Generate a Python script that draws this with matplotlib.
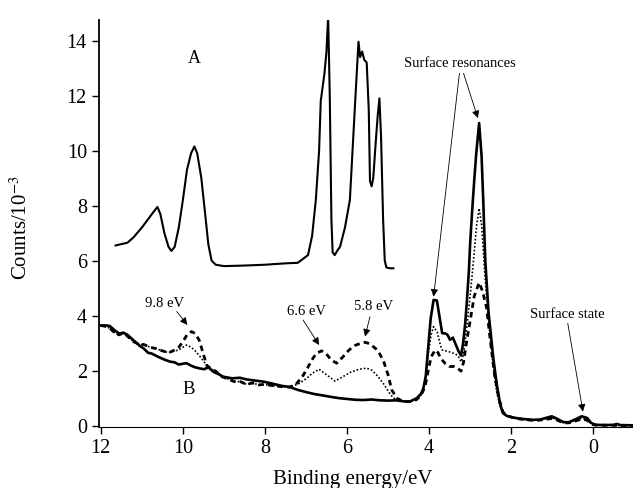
import matplotlib.pyplot as plt

plt.rcParams['font.family'] = 'Liberation Serif'
plt.rcParams['mathtext.fontset'] = 'stix'

# spectrum A (upper trace)
a_ev = [11.64, 11.5, 11.35, 11.2, 11.0, 10.85, 10.7, 10.62, 10.55, 10.45, 10.35, 10.28,
        10.2, 10.1, 10.0, 9.9, 9.8, 9.72, 9.65, 9.55, 9.45, 9.38, 9.3, 9.2, 9.0, 8.5,
        8.0, 7.5, 7.2, 6.95, 6.85, 6.76, 6.68, 6.64, 6.55, 6.5, 6.46, 6.42, 6.38, 6.35,
        6.3, 6.22, 6.17, 6.05, 5.93, 5.8, 5.72, 5.68, 5.63, 5.58, 5.52, 5.47, 5.44,
        5.4, 5.36, 5.3, 5.25, 5.21, 5.17, 5.12, 5.08, 5.04, 4.95, 4.87]
a_cts = [6.55, 6.6, 6.65, 6.85, 7.2, 7.5, 7.8, 7.95, 7.7, 7.0, 6.5, 6.35,
         6.5, 7.2, 8.2, 9.3, 9.9, 10.15, 9.9, 9.0, 7.6, 6.6, 6.0, 5.85, 5.8, 5.82,
         5.85, 5.9, 5.92, 6.2, 6.9, 8.2, 10.0, 11.8, 12.8, 13.6, 14.9, 12.0, 7.5, 6.3,
         6.2, 6.4, 6.5, 7.2, 8.2, 11.8, 13.96, 13.4, 13.6, 13.3, 13.2, 11.5, 8.9,
         8.7, 9.0, 10.3, 11.3, 11.9, 10.5, 7.5, 6.0, 5.75, 5.72, 5.72]

# spectrum B, solid
b1_ev = [12.0, 11.85, 11.78, 11.65, 11.55, 11.45, 11.35, 11.2, 11.05, 10.95, 10.85,
         10.76, 10.6, 10.45, 10.32, 10.2, 10.1, 10.0, 9.91, 9.8, 9.7, 9.59, 9.48, 9.38,
         9.25, 9.1, 9.02, 8.8, 8.61, 8.45, 8.2, 8.04, 7.8, 7.6, 7.39, 7.2, 7.0, 6.8,
         6.6, 6.41, 6.2, 6.0, 5.8, 5.6, 5.4, 5.2, 5.0, 4.8, 4.6, 4.46, 4.3, 4.2, 4.14,
         4.08, 4.02, 3.96, 3.89, 3.81, 3.75, 3.68, 3.6, 3.55, 3.49, 3.42, 3.35, 3.28,
         3.22, 3.17, 3.12, 3.08, 3.03, 3.0, 2.95, 2.9, 2.85, 2.78, 2.72, 2.68, 2.63,
         2.55, 2.43, 2.35, 2.27, 2.2, 2.1, 1.9, 1.7, 1.46, 1.3, 1.15, 1.01, 0.88, 0.73,
         0.6, 0.45, 0.28, 0.15, 0.05, -0.05, -0.3, -0.5, -0.58, -0.66, -0.97]
b1_cts = [3.64, 3.64, 3.62, 3.45, 3.35, 3.38, 3.3, 3.1, 2.9, 2.8, 2.65,
          2.62, 2.5, 2.4, 2.33, 2.3, 2.22, 2.25, 2.27, 2.18, 2.12, 2.08, 2.05, 2.12,
          1.95, 1.85, 1.78, 1.72, 1.74, 1.68, 1.63, 1.6, 1.52, 1.45, 1.4, 1.3, 1.22, 1.15,
          1.1, 1.05, 1.0, 0.97, 0.94, 0.93, 0.95, 0.92, 0.91, 0.92, 0.88, 0.88, 1.0, 1.15, 1.35,
          1.8, 2.87, 3.9, 4.57, 4.55, 4.0, 3.36, 3.35, 3.3, 3.12, 3.2, 2.95, 2.7,
          2.55, 3.0, 3.7, 4.5, 5.6, 6.6, 7.8, 8.9, 9.9, 11.0, 9.8, 8.2, 6.0,
          4.1, 2.4, 1.5, 0.8, 0.45, 0.35, 0.28, 0.24, 0.21, 0.22, 0.28, 0.34, 0.25, 0.13,
          0.12, 0.22, 0.34, 0.28, 0.1, 0.03, 0.02, 0.03, 0.06, 0.02, 0.01]

# spectrum B, dashed
b2_ev = [12.0, 11.85, 11.75, 11.65, 11.55, 11.45, 11.35, 11.2, 11.05, 10.95, 10.8,
         10.65, 10.5, 10.35, 10.24, 10.1, 10.0, 9.9, 9.79, 9.7, 9.6, 9.5, 9.42, 9.3,
         9.2, 9.05, 8.9, 8.75, 8.6, 8.45, 8.3, 8.15, 8.0, 7.8, 7.6, 7.4, 7.25, 7.1,
         6.98, 6.85, 6.75, 6.62, 6.5, 6.38, 6.25, 6.1, 5.95, 5.8, 5.65, 5.56, 5.45,
         5.3, 5.2, 5.11, 5.0, 4.91, 4.79, 4.65, 4.5, 4.4, 4.3, 4.2, 4.1, 4.02, 3.95,
         3.85, 3.78, 3.72, 3.6, 3.5, 3.4, 3.3, 3.22, 3.16, 3.1, 3.0, 2.9, 2.78, 2.7,
         2.6, 2.5, 2.4, 2.3, 2.2, 2.1, 1.9, 1.7, 1.46, 1.3, 1.15, 1.01, 0.88, 0.73,
         0.6, 0.45, 0.28, 0.15, 0.05, -0.05, -0.5, -0.97]
b2_cts = [3.64, 3.6, 3.5, 3.35, 3.3, 3.38, 3.25, 3.05, 2.95, 2.95, 2.85,
          2.8, 2.72, 2.65, 2.72, 2.85, 3.05, 3.3, 3.42, 3.35, 3.1, 2.6, 2.2, 2.05,
          1.98, 1.78, 1.7, 1.6, 1.6, 1.5, 1.55, 1.48, 1.5, 1.45, 1.42, 1.4, 1.5, 1.75,
          2.05, 2.4, 2.62, 2.72, 2.6, 2.38, 2.27, 2.5, 2.75, 2.92, 3.0, 3.03, 2.98,
          2.8, 2.6, 2.35, 1.85, 1.3, 1.0, 0.9, 0.87, 0.88, 0.95, 1.1, 1.4, 2.0, 2.5,
          2.75, 2.65, 2.45, 2.25, 2.15, 2.15, 2.08, 1.98, 2.3, 2.9, 3.8, 4.7, 5.2, 4.9,
          4.3, 3.0, 1.8, 1.0, 0.5, 0.35, 0.27, 0.22, 0.19, 0.2, 0.23, 0.26, 0.2, 0.1,
          0.1, 0.16, 0.24, 0.2, 0.05, 0.02, 0.01, 0.0]

# spectrum B, dotted
b3_ev = [12.0, 11.85, 11.75, 11.65, 11.55, 11.45, 11.35, 11.2, 11.05, 10.95, 10.8,
         10.65, 10.5, 10.35, 10.24, 10.1, 10.0, 9.91, 9.8, 9.7, 9.6, 9.5, 9.4, 9.3,
         9.2, 9.05, 8.9, 8.75, 8.6, 8.45, 8.3, 8.15, 8.0, 7.8, 7.6, 7.4, 7.2, 6.98,
         6.85, 6.68, 6.5, 6.29, 6.1, 5.9, 5.7, 5.52, 5.4, 5.25, 5.1, 4.95, 4.87, 4.7,
         4.5, 4.3, 4.2, 4.1, 4.02, 3.95, 3.89, 3.8, 3.72, 3.68, 3.5, 3.35, 3.28, 3.22,
         3.16, 3.08, 2.98, 2.9, 2.84, 2.78, 2.72, 2.63, 2.55, 2.45, 2.35, 2.25, 2.15,
         1.9, 1.7, 1.46, 1.3, 1.15, 1.01, 0.88, 0.73, 0.6, 0.45, 0.28, 0.15, 0.05,
         -0.05, -0.5, -0.97]
b3_cts = [3.64, 3.6, 3.5, 3.35, 3.3, 3.38, 3.25, 3.05, 2.95, 2.95, 2.85,
          2.8, 2.72, 2.65, 2.7, 2.75, 2.85, 2.93, 2.85, 2.72, 2.55, 2.35, 2.15, 2.05,
          1.98, 1.78, 1.7, 1.6, 1.6, 1.5, 1.55, 1.48, 1.5, 1.45, 1.42, 1.42, 1.5, 1.72,
          1.9, 2.05, 1.85, 1.62, 1.78, 1.95, 2.05, 2.09, 2.02, 1.8, 1.5, 1.15, 1.0, 0.9,
          0.87, 0.95, 1.1, 1.6, 2.6, 3.3, 3.6, 3.4, 2.9, 2.75, 2.68, 2.6, 2.5, 2.32,
          2.6, 3.6, 5.0, 6.3, 7.3, 7.9, 7.3, 5.3, 3.8, 2.3, 1.2, 0.6, 0.38,
          0.28, 0.23, 0.2, 0.21, 0.25, 0.28, 0.22, 0.11, 0.1, 0.18, 0.27, 0.22, 0.07,
          0.02, 0.01, 0.0]

fig = plt.figure(figsize=(6.33, 4.88), dpi=100)
ax = fig.add_axes([0.156, 0.125, 0.844, 0.833])

ax.plot(a_ev, a_cts, color='black', lw=1.5)
ax.plot(b3_ev, b3_cts, color='black', lw=1.2, linestyle=(0, (1, 1.2)))
ax.plot(b2_ev, b2_cts, color='black', lw=2.0, linestyle=(0, (2, 1.5)))
ax.plot(b1_ev, b1_cts, color='black', lw=1.9)

ax.set_xlim(12.05, -0.97)
ax.set_ylim(-0.05, 14.73)
ax.set_xticks([12, 10, 8, 6, 4, 2, 0])
ax.set_yticks([0, 2, 4, 6, 8, 10, 12, 14])
ax.tick_params(labelsize=14.5, direction='out', length=5, width=1)
ax.spines['top'].set_visible(False)
ax.spines['right'].set_visible(False)
ax.spines['left'].set_linewidth(1.3)

ax.set_xlabel('Binding energy/eV', fontsize=15)
ax.xaxis.set_label_coords(0.476, -0.105)
ax.set_ylabel('Counts/10$^{-3}$', fontsize=15)
ax.yaxis.set_label_coords(-0.125, 0.49)

ax.text(9.72, 13.36, 'A', fontsize=13, ha='center', va='center')
ax.text(9.85, 1.3, 'B', fontsize=13.5, ha='center', va='center')

arrow = dict(arrowstyle='-|>', lw=0.6, color='black', mutation_scale=11,
             shrinkA=0, shrinkB=0)
ax.text(10.44, 4.45, '9.8 eV', fontsize=10.5, ha='center', va='center')
ax.annotate('', xy=(9.89, 3.66), xytext=(10.15, 4.15), arrowprops=arrow)
ax.text(6.98, 4.15, '6.6 eV', fontsize=10.5, ha='center', va='center')
ax.annotate('', xy=(6.68, 2.93), xytext=(7.07, 3.84), arrowprops=arrow)
ax.text(5.36, 4.33, '5.8 eV', fontsize=10.5, ha='center', va='center')
ax.annotate('', xy=(5.56, 3.24), xytext=(5.44, 3.96), arrowprops=arrow)
ax.text(3.24, 13.18, 'Surface resonances', fontsize=10.5, ha='center', va='center')
ax.annotate('', xy=(3.89, 4.69), xytext=(3.26, 12.81), arrowprops=arrow)
ax.annotate('', xy=(2.81, 11.18), xytext=(3.16, 12.81), arrowprops=arrow)
ax.text(0.64, 4.03, 'Surface state', fontsize=10.5, ha='center', va='center')
ax.annotate('', xy=(0.25, 0.51), xytext=(0.62, 3.72), arrowprops=arrow)

fig.savefig('out.png', dpi=100)
